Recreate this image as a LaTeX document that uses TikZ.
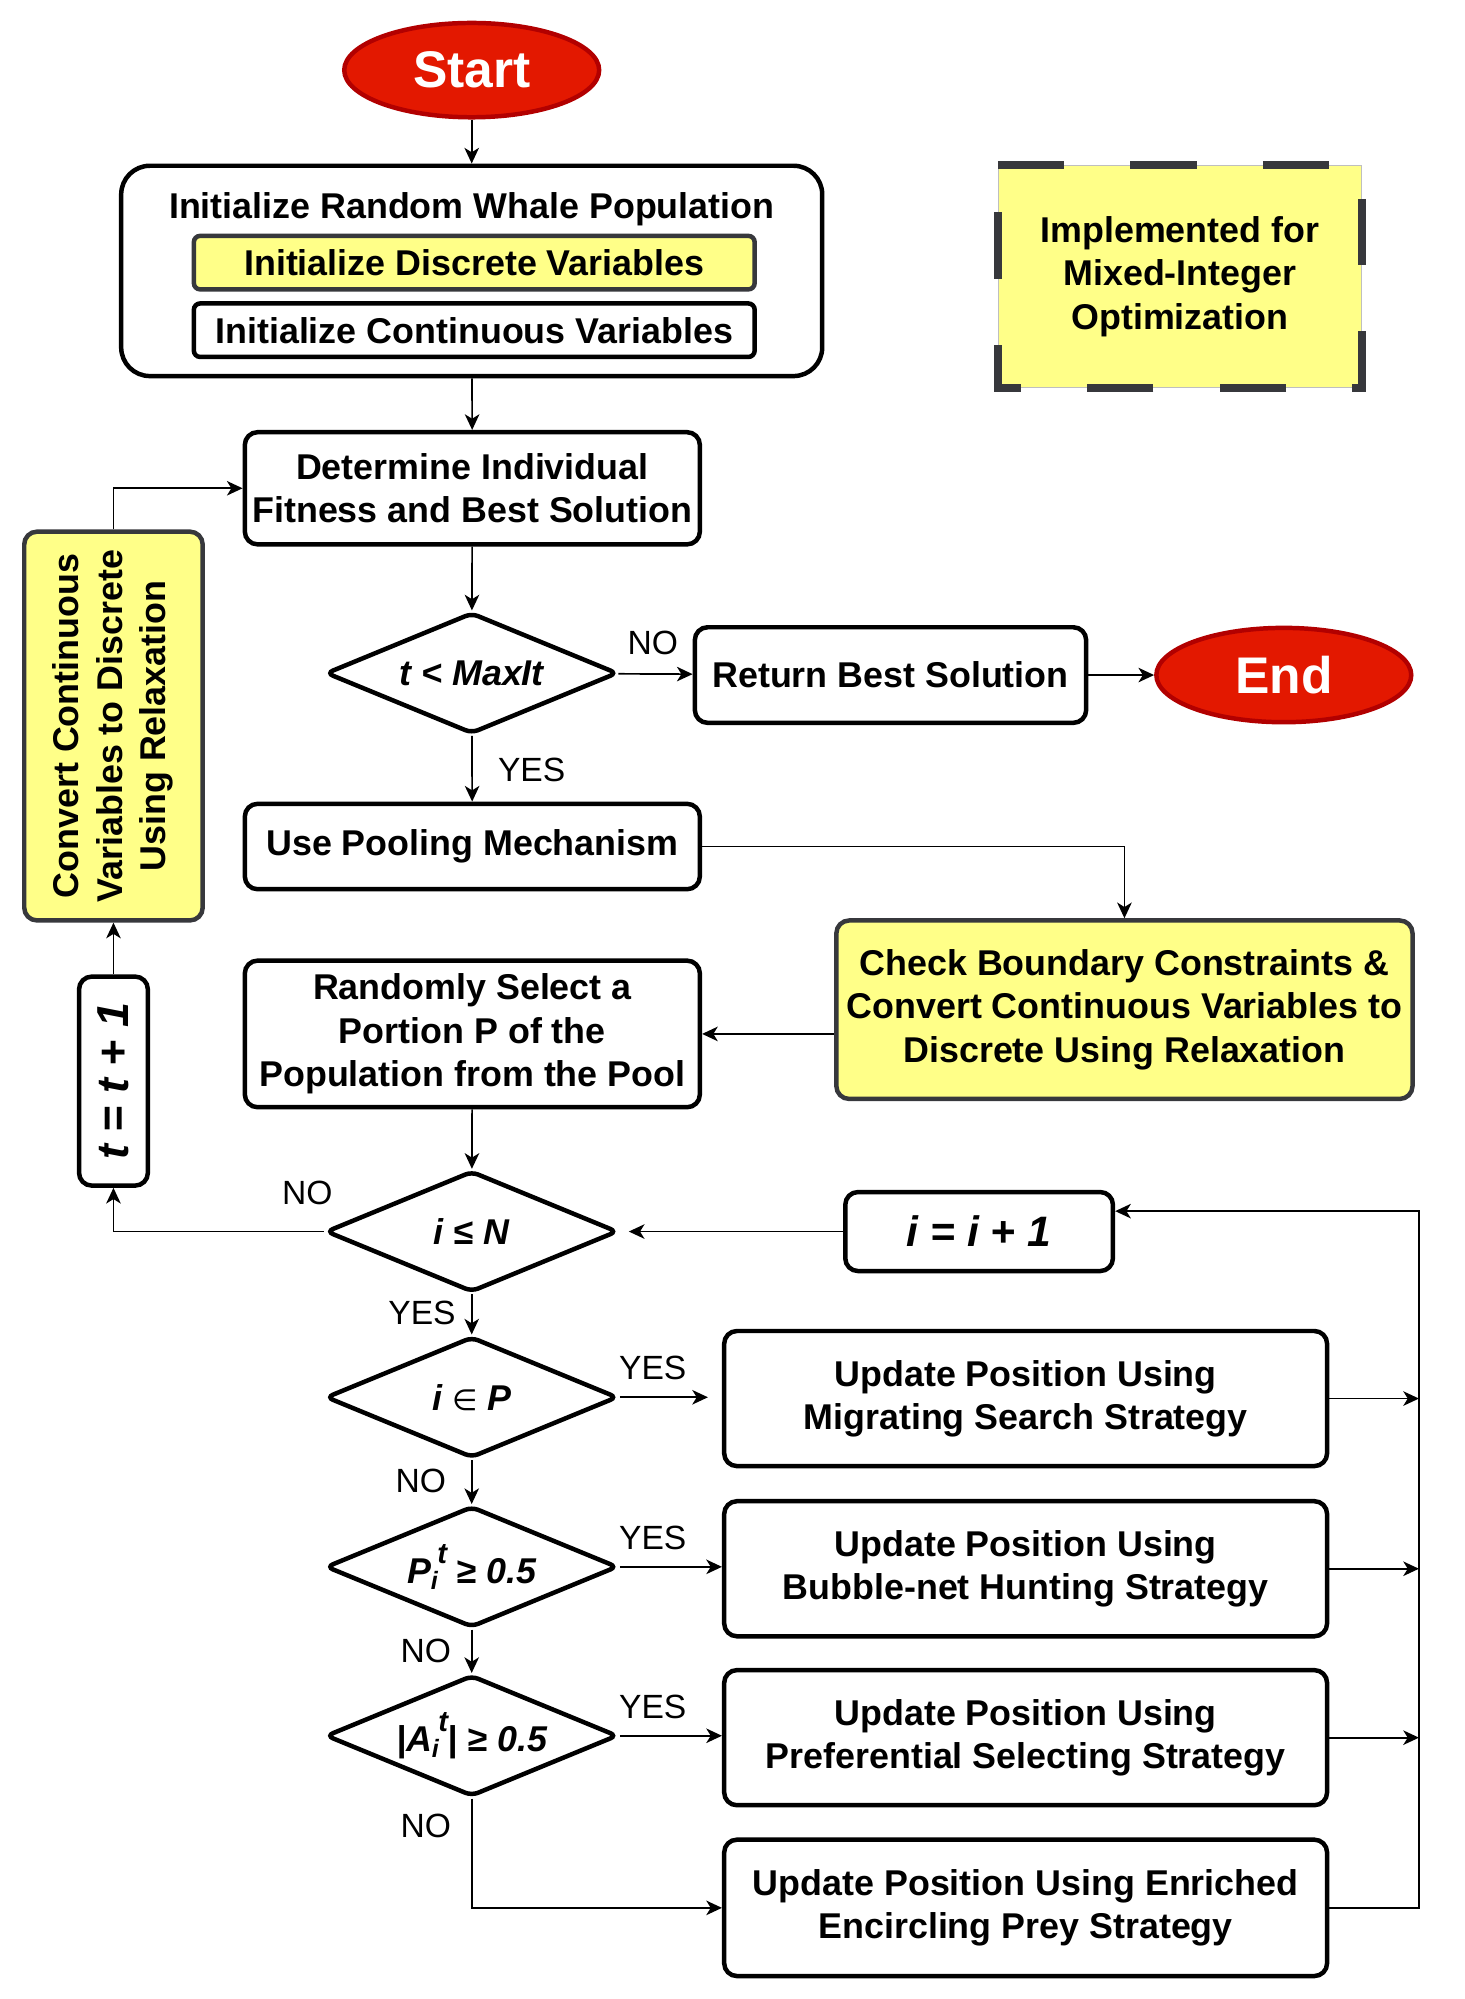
\documentclass[tikz,border=0pt]{standalone}
\usepackage{fontspec}
\setmainfont{Liberation Sans}
\newfontfamily\symbolfont{DejaVu Sans}
\usetikzlibrary{shapes.geometric,arrows.meta}

\definecolor{termred}{RGB}{227,24,0}
\definecolor{termedge}{RGB}{178,0,0}
\definecolor{hlyellow}{RGB}{255,255,136}
\definecolor{edgegrey}{RGB}{55,56,60}

\tikzset{
  base/.style={font=\fontsize{16}{19.3}\selectfont\bfseries, align=center, inner sep=0pt},
  process/.style={base, draw, line width=2pt, rounded corners=0.2cm, fill=white},
  hlbox/.style={process, draw=edgegrey, fill=hlyellow},
  terminal/.style={ellipse, draw=termedge, fill=termred, line width=2pt, text=white,
    font=\fontsize{23}{26}\selectfont\bfseries, minimum width=4cm, minimum height=1.48cm, inner sep=0pt},
  decision/.style={diamond, aspect=2.4, draw, line width=2pt, rounded corners=3pt, fill=white,
    minimum width=4.58cm, minimum height=1.9cm, inner sep=0pt,
    font=\fontsize{16}{19}\selectfont\bfseries\itshape},
  notebox/.style={base, fill=hlyellow, draw=black!25, line width=0.4pt,
    minimum width=5.7cm, minimum height=3.48cm},
  updbox/.style={process, minimum width=9.46cm, minimum height=2.12cm},
  answer/.style={font=\fontsize{15}{18}\selectfont, inner sep=0pt},
  flow/.style={line width=0.75pt, -{Stealth[length=7pt,width=6.5pt,inset=2pt]}},
  link/.style={line width=0.75pt},
}
\newcommand{\subsup}[2]{\textsubscript{#1}\kern-0.05em\raisebox{0.55em}{\fontsize{13}{13}\selectfont #2}}

\begin{document}
\begin{tikzpicture}[x=0.02cm, y=-0.02cm]
  \useasboundingbox (0,0) rectangle (1149,1568);

  % start and initialisation
  \node[terminal] (start) at (370,55) {Start};
  \node[process, minimum width=11cm, minimum height=3.3cm, rounded corners=0.45cm] (init) at (370,212.5) {};
  \node[base] (inittitle) at (370,164) {Initialize Random Whale Population};
  \node[hlbox, minimum width=8.8cm, minimum height=0.84cm, rounded corners=0.1cm] (discrete) at (372,206) {Initialize Discrete Variables};
  \node[process, minimum width=8.8cm, minimum height=0.84cm, rounded corners=0.1cm] (continuous) at (372,259) {Initialize Continuous Variables};

  % note
  \node[notebox] (note) at (925.5,217) {Implemented for\\Mixed-Integer\\Optimization};
  \draw[edgegrey, line width=3.4pt, dash pattern=on 1.04cm off 1.04cm]
    (note.north west) -- (note.north east) -- (note.south east) -- (note.south west) -- cycle;

  % main loop
  \node[process, minimum width=7.14cm, minimum height=1.76cm] (fit) at (370.5,383) {Determine Individual\\Fitness and Best Solution};
  \node[decision] (maxit) at (370,528) {t < MaxIt};
  \node[process, minimum width=6.14cm, minimum height=1.5cm] (ret) at (698.5,529.5) {Return Best Solution};
  \node[terminal] (end) at (1007,529.5) {End};
  \node[process, minimum width=7.14cm, minimum height=1.34cm] (pool) at (370.5,664) {Use Pooling Mechanism};
  \node[hlbox, minimum width=9.04cm, minimum height=2.8cm] (check) at (882,792) {Check Boundary Constraints \&\\Convert Continuous Variables to\\Discrete Using Relaxation};
  \node[process, minimum width=7.14cm, minimum height=2.3cm] (rand) at (370.5,811) {Randomly Select a\\Portion P of the\\Population from the Pool};
  \node[decision] (loopi) at (370,966) {i ≤ N};
  \node[process, minimum width=4.2cm, minimum height=1.24cm, font=\fontsize{19}{22}\selectfont\bfseries\itshape] (inci) at (768,966) {i = i + 1};
  \node[process, minimum width=1.08cm, minimum height=3.28cm] (inct) at (89,848)
    {\rotatebox{90}{\fontsize{20}{24}\selectfont\bfseries\itshape t = t + 1}};
  \node[hlbox, minimum width=2.8cm, minimum height=6.1cm] (conv) at (89,569.5)
    {\rotatebox{90}{\begin{tabular}{@{}c@{}}Convert Continuous\\Variables to Discrete\\Using Relaxation\end{tabular}}};

  % position updates
  \node[decision] (inp) at (370,1096) {i {\symbolfont\mdseries\fontsize{13}{13}\selectfont ∈} P};
  \node[decision] (pbub) at (370,1229) {P\subsup{i}{t} ≥ 0.5};
  \node[decision] (aval) at (370,1361.5) {|A\subsup{i}{t}| ≥ 0.5};
  \node[updbox] (upd1) at (804.5,1097) {Update Position Using\\Migrating Search Strategy};
  \node[updbox] (upd2) at (804.5,1230.5) {Update Position Using\\Bubble-net Hunting Strategy};
  \node[updbox] (upd3) at (804.5,1363) {Update Position Using\\Preferential Selecting Strategy};
  \node[updbox, minimum height=2.14cm] (upd4) at (804.5,1496.5) {Update Position Using Enriched\\Encircling Prey Strategy};
  \coordinate (railtop) at (1113,950);

  % answers
  \node[answer] (noret) at (512,504) {NO};
  \node[answer] (yespool) at (417,604) {YES};
  \node[answer] (noloop) at (241,936) {NO};
  \node[answer] (yesloop) at (331,1030) {YES};
  \node[answer] (yesmig) at (512,1073) {YES};
  \node[answer] (nomig) at (330,1162) {NO};
  \node[answer] (yesbub) at (512,1206) {YES};
  \node[answer] (nobub) at (334,1295) {NO};
  \node[answer] (yessel) at (512,1339) {YES};
  \node[answer] (nosel) at (334,1432) {NO};

  % connectors
  \draw[flow] (start) -- (init);
  \draw[flow] (init) -- (fit);
  \draw[flow] (fit) -- (maxit);
  \draw[flow] (maxit) -- (ret);
  \draw[flow] (ret) -- (end);
  \draw[flow] (maxit) -- (pool);
  \draw[flow] (pool.east) -| (check.north);
  \draw[flow] (check.west |- rand.east) -- (rand.east);
  \draw[flow] (rand) -- (loopi);
  \draw[flow] (loopi.west) -| (inct.south);
  \draw[flow] (inct) -- (conv);
  \draw[flow] (conv.north) |- (fit.west);
  \draw[flow, shorten >=0.14cm] (inci) -- (loopi);
  \draw[flow] (loopi) -- (inp);
  \draw[flow, shorten >=0.22cm] (inp) -- (inp -| upd1.west);
  \draw[flow] (inp) -- (pbub);
  \draw[flow] (pbub) -- (pbub -| upd2.west);
  \draw[flow] (pbub) -- (aval);
  \draw[flow] (aval) -- (aval -| upd3.west);
  \draw[flow] (aval.south) |- (upd4.west);
  \draw[flow] (upd1.east) -- (upd1.east -| railtop);
  \draw[flow] (upd2.east) -- (upd2.east -| railtop);
  \draw[flow] (upd3.east) -- (upd3.east -| railtop);
  \draw[flow] (upd4.east) -| (railtop) -- (inci.east |- railtop);
\end{tikzpicture}
\end{document}
